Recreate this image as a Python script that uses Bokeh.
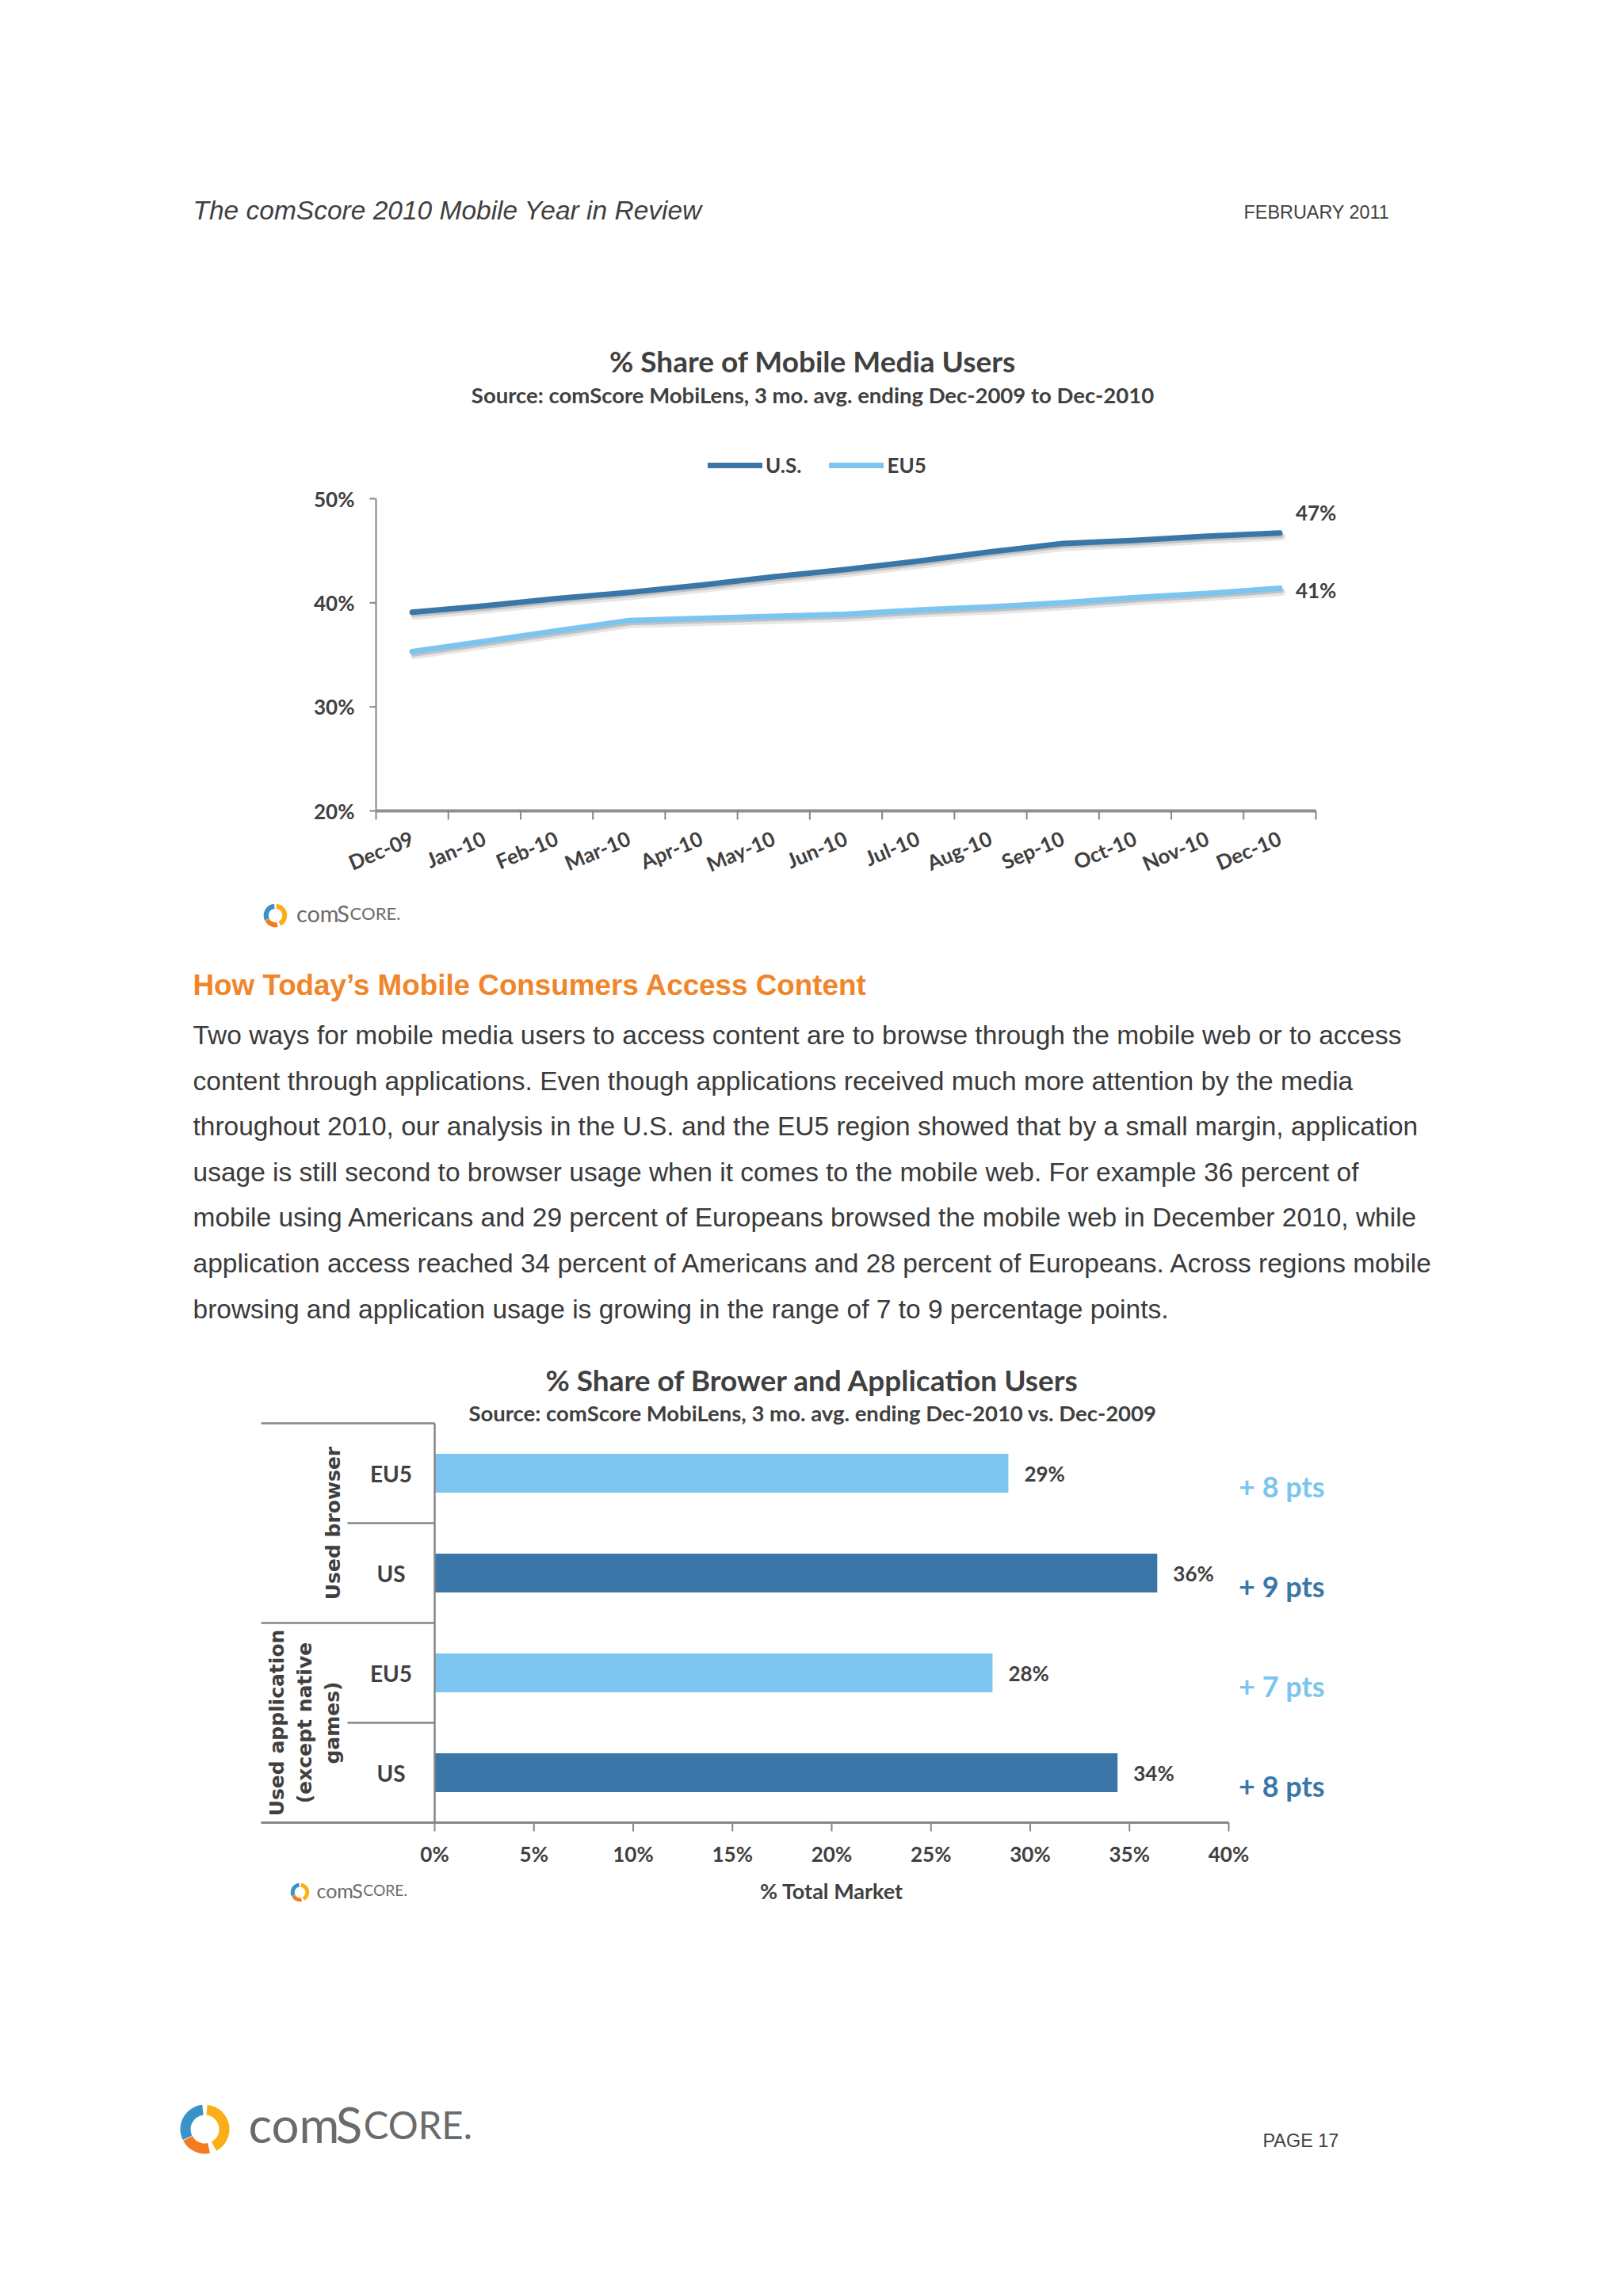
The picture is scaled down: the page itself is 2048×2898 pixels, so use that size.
import math
from bokeh.plotting import figure
from bokeh.models import (ColumnDataSource, Range1d, Label, Legend, LegendItem)
from bokeh.transform import dodge
from bokeh.core.properties import value
from bokeh.embed import file_html
from bokeh.resources import INLINE

# ------------------------------------------------------------------ data
months = ["Dec-09", "Jan-10", "Feb-10", "Mar-10", "Apr-10", "May-10", "Jun-10",
          "Jul-10", "Aug-10", "Sep-10", "Oct-10", "Nov-10", "Dec-10"]
us_share = [39.1, 39.7, 40.4, 41.0, 41.7, 42.5, 43.2, 44.0, 44.9, 45.7, 46.0, 46.4, 46.7]
eu5_share = [35.3, 36.3, 37.3, 38.3, 38.5, 38.7, 38.9, 39.3, 39.6, 40.0, 40.5, 40.9, 41.4]
line_y_ticks = [20, 30, 40, 50]

bar_groups = ["Used browser", "Used browser",
              "Used application\n(except native\ngames)", "Used application\n(except native\ngames)"]
bar_regions = ["EU5", "US", "EU5", "US"]
bar_share = [28.9, 36.4, 28.1, 34.4]
bar_change_pts = [8, 9, 7, 8]
bar_x_ticks = [0, 5, 10, 15, 20, 25, 30, 35, 40]

body_lines = [
    "Two ways for mobile media users to access content are to browse through the mobile web or to access",
    "content through applications. Even though applications received much more attention by the media",
    "throughout 2010, our analysis in the U.S. and the EU5 region showed that by a small margin, application",
    "usage is still second to browser usage when it comes to the mobile web. For example 36 percent of",
    "mobile using Americans and 29 percent of Europeans browsed the mobile web in December 2010, while",
    "application access reached 34 percent of Americans and 28 percent of Europeans. Across regions mobile",
    "browsing and application usage is growing in the range of 7 to 9 percentage points.",
]

# ------------------------------------------------------------------ style / layout
W, H = 2040, 2890
US_C = "#3A77A8"
EU_C = "#7CC5EE"
AX_C = "#868686"
TXT = "#404040"
CH_FONT = "Lato"
PAGE_FONT = "Liberation Sans"

C1 = dict(left=474, right=1660, top=629, bottom=1023)          # line chart plot area (px)
C2 = dict(left=329, zero=548, forty=1550, bottom=2300, unit=126.0, sub=438)  # bar chart

p = figure(width=W, height=H, x_range=Range1d(0, W), y_range=Range1d(H, 0),
           output_backend="svg", toolbar_location=None, x_axis_type=None, y_axis_type=None,
           min_border=0, min_border_left=0, min_border_right=0, min_border_top=0,
           min_border_bottom=0, title=None)
p.outline_line_color = None
p.background_fill_color = "white"
p.border_fill_color = "white"
p.grid.visible = False

# scales for the line chart
n_m = len(months)
kx1 = (C1["right"] - C1["left"]) / n_m
ky1 = (C1["bottom"] - C1["top"]) / (line_y_ticks[-1] - line_y_ticks[0])
p.extra_x_ranges["month"] = Range1d(-C1["left"] / kx1, (W - C1["left"]) / kx1)
p.extra_y_ranges["pct"] = Range1d(line_y_ticks[0] - (H - C1["bottom"]) / ky1,
                                  line_y_ticks[-1] + C1["top"] / ky1)
# scales for the bar chart
kx2 = (C2["forty"] - C2["zero"]) / bar_x_ticks[-1]
p.extra_x_ranges["share"] = Range1d(-C2["zero"] / kx2, (W - C2["zero"]) / kx2)
p.extra_y_ranges["cat"] = Range1d(-(H - C2["bottom"]) / C2["unit"], C2["bottom"] / C2["unit"])


def txt(x, y, text, size, color=TXT, font=CH_FONT, style="bold", align="left",
        baseline="middle", **kw):
    return p.text(x=x, y=y, text=text, text_font=value(font), text_font_size=f"{size}px",
                  text_font_style=style, text_color=color, text_align=align,
                  text_baseline=baseline, **kw)


def logo(cx, cy, s, ts=1.0):
    r = 31 * s
    p.annular_wedge(x=cx, y=cy, inner_radius=r * 0.58, outer_radius=r,
                    start_angle=[math.radians(a) for a in (-62, 96, 208)],
                    end_angle=[math.radians(a) for a in (84, 206, 282)],
                    color=["#FBAF17", "#3A93C8", "#F47C20"], line_color=None)
    t = s * ts
    base = cy - 6 * t
    x0 = cx + 55 * s
    txt([x0], [base], ["com"], 60 * t, color="#6b6b6b", style="normal", baseline="alphabetic")
    txt([x0 + 107 * t], [base], ["S"], 60 * t, color="#6b6b6b", style="normal",
        baseline="alphabetic")
    txt([x0 + 141 * t], [base], ["CORE."], 46 * t, color="#6b6b6b", style="normal",
        baseline="alphabetic")


# ================================================================== page texts
txt([243], [265], ["The comScore 2010 Mobile Year in Review"], 33.5, color="#3f3f3f",
    font=PAGE_FONT, style="italic")
txt([1569], [267], ["FEBRUARY 2011"], 23.4, color="#3f3f3f", font=PAGE_FONT, style="normal")
txt([243], [1243], ["How Today\u2019s Mobile Consumers Access Content"], 36.8, color="#F0852A",
    font=PAGE_FONT, style="bold")
txt([243] * len(body_lines), [1306 + i * 57.6 for i in range(len(body_lines))], body_lines,
    33.5, color="#3a3a3a", font=PAGE_FONT, style="normal")
txt([1593], [2701], ["PAGE 17"], 23.4, color="#3f3f3f", font=PAGE_FONT, style="normal")
logo(258, 2687, 1.0, 1.03)

# ================================================================== line chart
txt([1025], [455], ["% Share of Mobile Media Users"], 37, align="center")
txt([1025], [498], ["Source: comScore MobiLens, 3 mo. avg. ending Dec-2009 to Dec-2010"], 27.5,
    align="center")
logo(347, 1155, 0.48)

# axes
p.segment(x0=[C1["left"]], x1=[C1["left"]], y0=[line_y_ticks[0]], y1=[line_y_ticks[-1]],
          y_range_name="pct", line_color=AX_C, line_width=2)
p.segment(x0=C1["left"] - 8, x1=C1["left"], y0=line_y_ticks, y1=line_y_ticks,
          y_range_name="pct", line_color=AX_C, line_width=2)
txt(C1["left"] - 27, line_y_ticks, [f"{t}%" for t in line_y_ticks], 26, align="right",
    y_range_name="pct")
p.segment(x0=[0], x1=[n_m], y0=[line_y_ticks[0]], y1=[line_y_ticks[0]],
          x_range_name="month", y_range_name="pct", line_color="#8f8f8f", line_width=4)
p.segment(x0=list(range(n_m + 1)), x1=list(range(n_m + 1)), y0=C1["bottom"],
          y1=C1["bottom"] + 11, x_range_name="month", line_color=AX_C, line_width=2)
txt([i + 0.5 for i in range(n_m)], C1["bottom"] + 33, months, 26, align="right",
    angle=0.40, x_range_name="month")

# series
src1 = ColumnDataSource(dict(x=[i + 0.5 for i in range(n_m)], us=us_share, eu5=eu5_share))
rend = {}
for col, colr in [("eu5", EU_C), ("us", US_C)]:
    p.line(x=dodge("x", 0.03), y=dodge(col, -0.38), source=src1, line_color="#9a9a9a",
           line_width=9, line_alpha=0.25, line_join="round", line_cap="round",
           x_range_name="month", y_range_name="pct")
    p.line(x=dodge("x", 0.02), y=dodge(col, -0.24), source=src1, line_color="#8a8a8a",
           line_width=6, line_alpha=0.38, line_join="round", line_cap="round",
           x_range_name="month", y_range_name="pct")
    rend[col] = p.line(x="x", y=col, source=src1, line_color=colr, line_width=7,
                       line_join="round", line_cap="round",
                       x_range_name="month", y_range_name="pct")

legend = Legend(items=[LegendItem(label="U.S.", renderers=[rend["us"]]),
                       LegendItem(label="EU5", renderers=[rend["eu5"]])],
                orientation="horizontal", location=(893, H - 588 - 15),
                glyph_width=69, glyph_height=30, label_height=30, label_standoff=4, spacing=35,
                padding=0, margin=0, border_line_alpha=0, background_fill_alpha=0,
                label_text_font=CH_FONT, label_text_font_style="bold",
                label_text_font_size="26px", label_text_color=TXT)
p.add_layout(legend, "center")

for vals, yoff in [(us_share, 26), (eu5_share, -3)]:
    p.add_layout(Label(x=src1.data["x"][-1], y=vals[-1], x_offset=20, y_offset=yoff,
                       x_range_name="month", y_range_name="pct",
                       text=f"{round(vals[-1])}%", text_font=CH_FONT, text_font_style="bold",
                       text_font_size="26px", text_color=TXT, text_baseline="middle"))

# ================================================================== bar chart
txt([1025], [1741], ["% Share of Brower and Application Users"], 37, align="center")
txt([1025], [1783], ["Source: comScore MobiLens, 3 mo. avg. ending Dec-2010 vs. Dec-2009"], 27.5,
    align="center")

n_b = len(bar_share)
bar_y = [n_b - 1 - i + 0.5 for i in range(n_b)]
src2 = ColumnDataSource(dict(
    y=bar_y, share=bar_share, region=bar_regions,
    color=[US_C if r == "US" else EU_C for r in bar_regions],
    label=[f"{round(v)}%" for v in bar_share],
    pts=[f"+ {v} pts" for v in bar_change_pts],
))
p.hbar(y="y", left=0, right="share", height=0.39, color="color", line_color=None, source=src2,
       x_range_name="share", y_range_name="cat")
txt("share", "y", "label", 26, x_offset=20, source=src2, x_range_name="share",
    y_range_name="cat")
p.text(x=bar_x_ticks[-1] + 0.5, y="y", text="pts", y_offset=16, source=src2,
       text_font=value(CH_FONT), text_font_style="bold", text_font_size="36px",
       text_color="color", text_align="left", text_baseline="middle",
       x_range_name="share", y_range_name="cat")
txt(493, "y", "region", 28, align="center", source=src2, y_range_name="cat")

# category axis with group brackets
grp_names, grp_lo, grp_hi = [], [], []
for i, g in enumerate(bar_groups):
    if not grp_names or grp_names[-1] != g:
        grp_names.append(g)
        grp_hi.append(bar_y[i] + 0.5)
        grp_lo.append(bar_y[i] - 0.5)
    else:
        grp_lo[-1] = bar_y[i] - 0.5
seg = dict(x0=[], x1=[], y0=[], y1=[])
for hi in grp_hi:
    seg["x0"].append(C2["left"]); seg["x1"].append(C2["zero"]); seg["y0"].append(hi); seg["y1"].append(hi)
for i in range(1, n_b):
    b = bar_y[i] + 0.5
    if b not in grp_hi:
        seg["x0"].append(C2["sub"]); seg["x1"].append(C2["zero"]); seg["y0"].append(b); seg["y1"].append(b)
seg["x0"].append(C2["zero"]); seg["x1"].append(C2["zero"]); seg["y0"].append(0); seg["y1"].append(n_b)
p.segment(x0="x0", y0="y0", x1="x1", y1="y1", source=ColumnDataSource(seg),
          line_color=AX_C, line_width=2.5, y_range_name="cat")
p.text(x=434, y=[(lo + hi) / 2 for lo, hi in zip(grp_lo, grp_hi)], text=grp_names,
       angle=math.pi / 2, text_font=value("DejaVu Sans"), text_font_style="bold",
       text_font_size="25px", text_color=TXT, text_align="center", text_baseline="bottom",
       text_line_height=1.21, y_range_name="cat")

# value axis
p.segment(x0=[(C2["left"] - C2["zero"]) / kx2], x1=[bar_x_ticks[-1]], y0=[0], y1=[0],
          x_range_name="share", y_range_name="cat", line_color=AX_C, line_width=3)
p.segment(x0=bar_x_ticks, x1=bar_x_ticks, y0=C2["bottom"], y1=C2["bottom"] + 11,
          x_range_name="share", line_color=AX_C, line_width=2)
txt(bar_x_ticks, C2["bottom"] + 39, [f"{t}%" for t in bar_x_ticks], 26, align="center",
    x_range_name="share")
txt([(bar_x_ticks[0] + bar_x_ticks[-1]) / 2], [2386], ["% Total Market"], 27, align="center",
    x_range_name="share")
logo(378, 2388, 0.38, 1.1)

open("out.html", "w").write(file_html(p, INLINE))
